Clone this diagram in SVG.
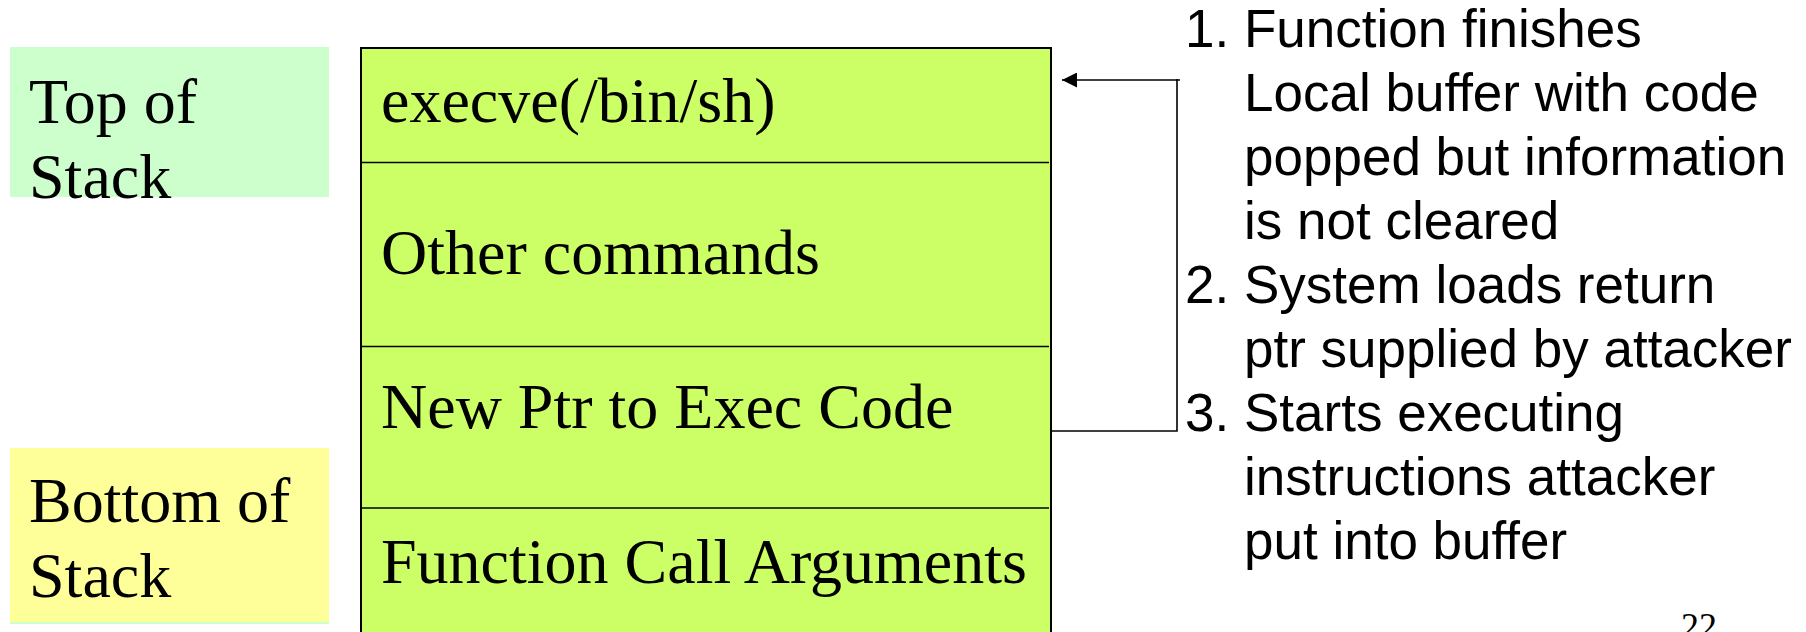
<svg xmlns="http://www.w3.org/2000/svg" width="1806" height="632" viewBox="0 0 1806 632">
  <defs>
    <style>
      .serif { font-family: "Liberation Serif", "Times New Roman", serif; font-size: 64px; fill: #000; }
      .sans { font-family: "Liberation Sans", Arial, sans-serif; font-size: 53px; fill: #000; }
      .cell { fill: #CCFF66; stroke: #000; stroke-width: 2; }
      .divider { stroke: #000; stroke-width: 1.6; }
      .wire { fill: none; stroke: #000; stroke-width: 1.6; }
    </style>
    <marker id="arrow" markerWidth="15" markerHeight="15" refX="15" refY="7.5" orient="auto" markerUnits="userSpaceOnUse">
      <path d="M0,0 L15,7.5 L0,15 Z" fill="#000"/>
    </marker>
  </defs>

  <rect width="1806" height="632" fill="#FFFFFF"/>

  <!-- Label: top of stack -->
  <g id="top-label">
    <rect x="10" y="47" width="319" height="150" fill="#CCFFCC"/>
    <text class="serif" x="29" y="123">Top of</text>
    <text class="serif" x="29" y="198">Stack</text>
  </g>

  <!-- Label: bottom of stack -->
  <g id="bottom-label">
    <rect x="10" y="622" width="319" height="2" fill="#CCFFCC"/>
    <rect x="10" y="448" width="319" height="174" fill="#FFFF99"/>
    <text class="serif" x="29" y="522">Bottom of</text>
    <text class="serif" x="29" y="597">Stack</text>
  </g>

  <!-- Stack frame cells -->
  <g id="stack">
    <rect class="cell" x="361" y="48" width="690" height="600"/>
    <line class="divider" x1="362" y1="162.5" x2="1049" y2="162.5"/>
    <line class="divider" x1="362" y1="346.5" x2="1049" y2="346.5"/>
    <line class="divider" x1="362" y1="508" x2="1049" y2="508"/>
  </g>
  <g id="cell-execve">
    <text class="serif" x="381" y="122">execve(/bin/sh)</text>
  </g>
  <g id="cell-other">
    <text class="serif" x="381" y="274">Other commands</text>
  </g>
  <g id="cell-ptr">
    <text class="serif" x="381" y="428">New Ptr to Exec Code</text>
  </g>
  <g id="cell-args">
    <text class="serif" x="381" y="583">Function Call Arguments</text>
  </g>

  <!-- Return pointer redirect -->
  <g id="connectors">
    <path class="wire" d="M1051,431 H1177 V79"/>
    <line class="wire" x1="1180" y1="80" x2="1062" y2="80" marker-end="url(#arrow)"/>
  </g>

  <!-- Step list -->
  <g id="steps">
    <text class="sans" x="1185" y="47">1.</text>
    <text class="sans" x="1244" y="47">Function finishes</text>
    <text class="sans" x="1244" y="111">Local buffer with code</text>
    <text class="sans" x="1244" y="175">popped but information</text>
    <text class="sans" x="1244" y="239">is not cleared</text>
    <text class="sans" x="1185" y="303">2.</text>
    <text class="sans" x="1244" y="303">System loads return</text>
    <text class="sans" x="1244" y="367">ptr supplied by attacker</text>
    <text class="sans" x="1185" y="431">3.</text>
    <text class="sans" x="1244" y="431">Starts executing</text>
    <text class="sans" x="1244" y="495">instructions attacker</text>
    <text class="sans" x="1244" y="559">put into buffer</text>
  </g>

  <!-- Page number -->
  <g id="page-number">
    <text x="1681" y="638" style="font-family: 'Liberation Serif', 'Times New Roman', serif; font-size: 36px; fill: #000;">22</text>
  </g>
</svg>
